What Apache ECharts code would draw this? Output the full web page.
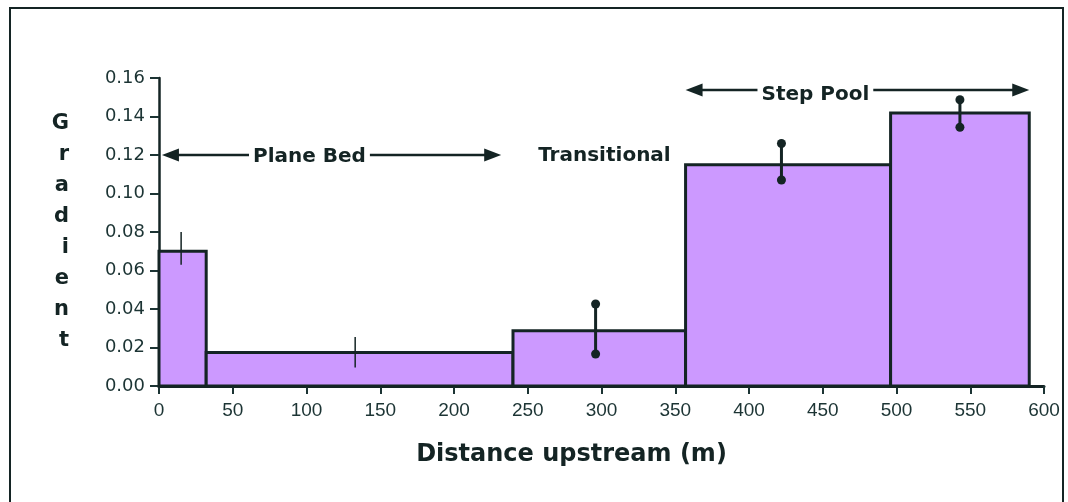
<!DOCTYPE html>
<html><head><meta charset="utf-8">
<script src="https://cdn.jsdelivr.net/npm/echarts@6/dist/echarts.min.js"></script>
<style>html,body{margin:0;padding:0;background:#fff}#c{width:1068px;height:502px}</style>
</head><body><div id="c"></div>
<script>
// Bin edges (m) and gradient per reach
var binStart = [0, 32, 240, 357, 496];
var binEnd   = [32, 240, 357, 496, 590];
var gradient = [0.070, 0.0174, 0.0287, 0.1150, 0.1418];
// Error bars
var errX    = [15, 133, 296, 422, 543];
var errLow  = [0.063, 0.0096, 0.0166, 0.107, 0.1344];
var errHigh = [0.080, 0.0254, 0.0426, 0.126, 0.1487];
var errDots = [false, false, true, true, true];
// Reach annotations
var reachLabels = ['Plane Bed', 'Transitional', 'Step Pool'];
var reachTextX  = [102, 302, 445];
var reachTextY  = [0.1190, 0.1195, 0.1512];
var arrowY      = [0.1200, null, 0.1538];
var arrowFrom   = [2, null, 357];
var arrowTo     = [232, null, 590];
var yTicks = [0, 0.02, 0.04, 0.06, 0.08, 0.10, 0.12, 0.14, 0.16];

var chart = echarts.init(document.getElementById('c'));
var ink = '#142424';
var lab = '#1c3434';
var barData = binStart.map(function(s,i){return [s, binEnd[i], gradient[i]];});
var errData = errX.map(function(x,i){return [x, errLow[i], errHigh[i], errDots[i]?1:0];});
var annData = reachLabels.map(function(t,i){return [reachTextX[i], reachTextY[i], arrowFrom[i], arrowTo[i], arrowY[i]];});

chart.setOption({
  animation:false,
  grid:{left:159, right:24, top:78, bottom:116},
  graphic:[{type:'rect', shape:{x:10,y:8,width:1053,height:520}, style:{fill:'none', stroke:ink, lineWidth:2}}],
  xAxis:{type:'value', min:0, max:600, interval:50,
    name:'Distance upstream (m)', nameLocation:'middle', nameGap:57,
    nameTextStyle:{fontFamily:'DejaVu Sans', fontWeight:'bold', fontSize:24, color:ink, padding:[0,60,0,0]},
    axisLine:{lineStyle:{color:ink, width:3}}, axisTick:{length:8, lineStyle:{color:lab, width:2}},
    axisLabel:{fontFamily:'Liberation Sans', fontSize:19, color:lab, margin:15},
    splitLine:{show:false}},
  yAxis:{type:'value', min:0, max:0.16, interval:0.02,
    name:'G\nr\na\nd\ni\ne\nn\nt', nameLocation:'middle', nameRotate:0, nameGap:90,
    nameTextStyle:{fontFamily:'DejaVu Sans', fontWeight:'bold', fontSize:21, color:ink, lineHeight:31, padding:[0,0,17,0]},
    axisLine:{lineStyle:{color:ink, width:2.5}}, axisTick:{length:9, lineStyle:{color:lab, width:2}},
    axisLabel:{fontFamily:'DejaVu Sans', fontSize:18, color:lab, margin:14, formatter:function(v){return v.toFixed(2);}},
    splitLine:{show:false}},
  series:[
    {type:'custom', data:barData, z:2, renderItem:function(p, api){
      var a = api.coord([api.value(0), 0]);
      var b = api.coord([api.value(1), api.value(2)]);
      return {type:'rect', shape:{x:a[0], y:b[1], width:b[0]-a[0], height:a[1]-b[1]},
        style:{fill:'#cc99ff', stroke:ink, lineWidth:3}};
    }},
    {type:'custom', data:errData, z:3, renderItem:function(p, api){
      var lo = api.coord([api.value(0), api.value(1)]);
      var hi = api.coord([api.value(0), api.value(2)]);
      var dots = api.value(3) === 1;
      var ch = [{type:'line', shape:{x1:lo[0], y1:lo[1], x2:hi[0], y2:hi[1]},
        style:{stroke:ink, lineWidth:dots?3:1.5}}];
      if (dots) {
        ch.push({type:'circle', shape:{cx:lo[0], cy:lo[1], r:4.5}, style:{fill:ink}});
        ch.push({type:'circle', shape:{cx:hi[0], cy:hi[1], r:4.5}, style:{fill:ink}});
      }
      return {type:'group', children:ch};
    }},
    {type:'custom', data:annData, z:4, renderItem:function(p, api){
      var i = p.dataIndex;
      var t = api.coord([reachTextX[i], reachTextY[i]]);
      var ch = [];
      if (arrowFrom[i] !== null) {
        var a = api.coord([arrowFrom[i], arrowY[i]]);
        var b = api.coord([arrowTo[i], arrowY[i]]);
        ch.push({type:'line', shape:{x1:a[0]+6, y1:a[1], x2:b[0]-6, y2:b[1]}, style:{stroke:ink, lineWidth:2.5}});
        ch.push({type:'polygon', shape:{points:[[a[0],a[1]],[a[0]+17,a[1]-6.5],[a[0]+17,a[1]+6.5]]}, style:{fill:ink}});
        ch.push({type:'polygon', shape:{points:[[b[0],b[1]],[b[0]-17,b[1]-6.5],[b[0]-17,b[1]+6.5]]}, style:{fill:ink}});
      }
      ch.push({type:'text', x:t[0], y:t[1], style:{text:reachLabels[i], fontFamily:'DejaVu Sans',
        fontWeight:'bold', fontSize:20, fill:ink, align:'center', verticalAlign:'middle',
        backgroundColor:'#fff', padding:[2,4]}});
      return {type:'group', children:ch};
    }}
  ]
});
</script></body></html>
